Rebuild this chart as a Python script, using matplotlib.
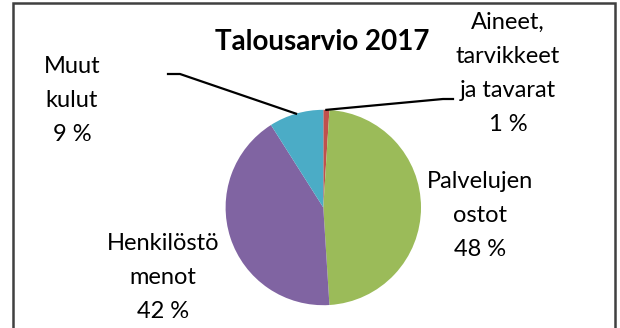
import numpy as np
import matplotlib.pyplot as plt

# Talousarvio 2017 - kulujen jakauma
luokat = ["Aineet,\ntarvikkeet\nja tavarat", "Palvelujen\nostot", "Henkilöstö\nmenot", "Muut\nkulut"]
osuudet = [1, 48, 42, 9]          # prosenttia
varit = ["#C0504D", "#9BBB59", "#8064A2", "#4BACC6"]

W, H = 620, 328
fig = plt.figure(figsize=(W / 100, H / 100), dpi=100)
ax = fig.add_axes([0, 0, 1, 1])

# pikselikoordinaatit, y ylöspäin
kx, ky, r = 323.3, H - 207.5, 97.7
wedges, _ = ax.pie(osuudet, colors=varit, startangle=90, counterclock=False,
                   center=(kx, ky), radius=r, frame=True,
                   wedgeprops={"linewidth": 0})
ax.set_xlim(0, W)
ax.set_ylim(0, H)
ax.set_aspect("auto")
ax.axis("off")

# kehys
ax.plot([12.5, 12.5, 614.5, 614.5], [-5, H - 3, H - 3, -5], color="#404040", lw=1.8,
        solid_joinstyle="miter")

fnt = "Lato"
ax.text(322, H - 50, "Talousarvio 2017", ha="center", va="baseline",
        fontsize=20, fontweight="bold", family=fnt)

# tekstien paikat (viimeisen rivin peruslinja)
paikat = [(508, 131), (480, 256), (163, 318), (72, 141)]
for nimi, p, (x, y) in zip(luokat, osuudet, paikat):
    ax.text(x, H - y, f"{nimi}\n{p} %", ha="center", va="baseline",
            fontsize=17, family=fnt, linespacing=1.76, color="#000000")


def reuna(w):
    a = np.deg2rad((w.theta1 + w.theta2) / 2)
    return kx + r * np.cos(a), ky + r * np.sin(a)


# viivat pieniin sektoreihin
x0, y0 = reuna(wedges[0])
ax.plot([x0, 443, 453], [y0, H - 99, H - 99], color="black", lw=1.6)
x3, y3 = reuna(wedges[3])
ax.plot([x3, 180, 168], [y3, H - 74, H - 74], color="black", lw=1.6)

fig.savefig("out.png", dpi=100)
